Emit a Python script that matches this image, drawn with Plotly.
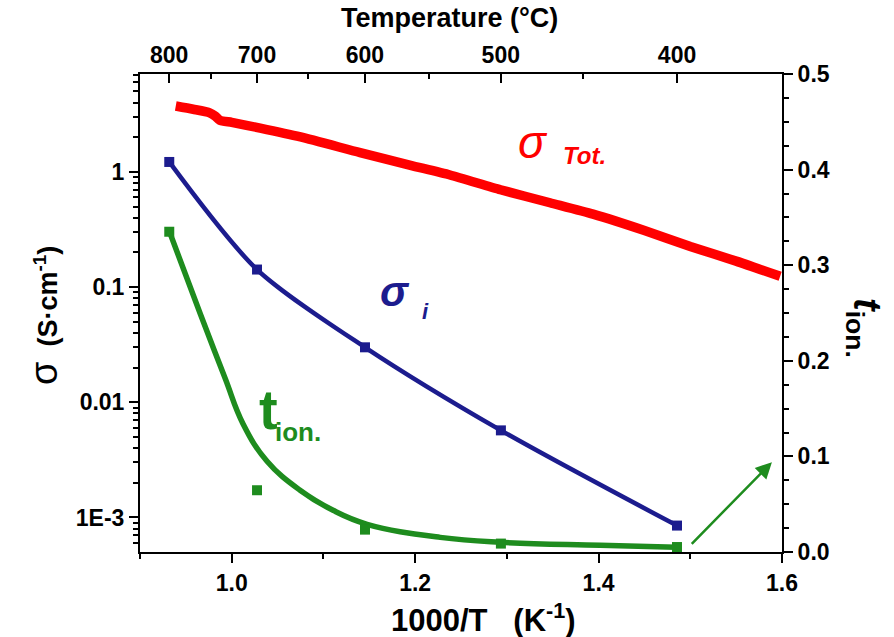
import plotly.graph_objects as go

# ---------------- data ----------------
# total conductivity (S/cm) vs 1000/T
tot_x = [0.939, 0.958, 0.976, 0.982, 0.987, 1.000, 1.031, 1.075, 1.140, 1.195,
         1.238, 1.293, 1.347, 1.394, 1.450, 1.500, 1.550, 1.598]
tot_y = [3.73, 3.50, 3.26, 3.05, 2.81, 2.69, 2.40, 2.01, 1.47, 1.14,
         0.94, 0.70, 0.54, 0.43, 0.31, 0.225, 0.168, 0.124]

# ionic conductivity points (S/cm)
ion_x = [0.9319, 1.0276, 1.1453, 1.2935, 1.4855]
ion_y = [1.22, 0.142, 0.030, 0.0057, 0.00085]

# ionic transference number points and fitted curve
tion_y = [0.335, 0.0646, 0.0234, 0.0088, 0.0052]
tfit_x = [0.9327, 0.9655, 0.9927, 1.0124, 1.0385, 1.0745, 1.1105, 1.1476,
          1.2273, 1.2927, 1.4018, 1.4847]
tfit_y = [0.3336, 0.2498, 0.1820, 0.1340, 0.0950, 0.0646, 0.0436, 0.0290,
          0.0153, 0.0101, 0.0070, 0.0050]

# axes ticks
x_ticks = [1.0, 1.2, 1.4, 1.6]
x_minor = [0.9, 1.1, 1.3, 1.5]
temp_major = [800, 700, 600, 500, 400]
temp_minor = [750, 650, 550, 450]
sig_ticks = [1e-3, 0.01, 0.1, 1]
sig_labels = ["1E-3", "0.01", "0.1", "1"]
sig_minor = [m * 10.0 ** e for e in range(-4, 1) for m in range(2, 10)]

# ---------------- styling ----------------
RED = "#FF0000"
BLUE = "#1C1C8E"
GREEN = "#1E8C1E"
FONT = "Liberation Sans, Arial, sans-serif"

L, R, T, B = 140, 112, 74, 85
W, H = 894, 637
PW, PH = W - L - R, H - T - B


def px(xp):
    return (xp - L) / PW


def py(yp):
    return (H - B - yp) / PH


def inv_T(tc):
    return 1000.0 / (tc + 273.15)


fig = go.Figure()

fig.add_trace(go.Scatter(x=tot_x, y=tot_y, mode="lines",
                         line=dict(color=RED, width=9.5, shape="spline", smoothing=0.6),
                         xaxis="x", yaxis="y", showlegend=False, hoverinfo="skip"))
fig.add_trace(go.Scatter(x=ion_x, y=ion_y, mode="lines+markers",
                         line=dict(color=BLUE, width=4.5, shape="spline", smoothing=0.8),
                         marker=dict(symbol="square", size=10, color=BLUE),
                         xaxis="x", yaxis="y", showlegend=False))
fig.add_trace(go.Scatter(x=tfit_x, y=tfit_y, mode="lines",
                         line=dict(color=GREEN, width=5.5, shape="spline", smoothing=1.2),
                         xaxis="x", yaxis="y2", showlegend=False))
fig.add_trace(go.Scatter(x=ion_x, y=tion_y, mode="markers",
                         marker=dict(symbol="square", size=10, color=GREEN),
                         xaxis="x", yaxis="y2", showlegend=False))
# invisible trace to carry the top temperature axis
fig.add_trace(go.Scatter(x=[0.95, 1.5], y=[0.1, 0.1], mode="markers",
                         marker=dict(opacity=0), xaxis="x2", yaxis="y2",
                         showlegend=False, hoverinfo="skip"))

tickfont = dict(family=FONT, size=23, color="black", weight="bold")
common = dict(showgrid=False, zeroline=False, showline=True, linecolor="black",
              linewidth=2, tickcolor="black", tickwidth=2, tickfont=tickfont)

fig.update_layout(
    width=W, height=H,
    margin=dict(l=L, r=R, t=T, b=B),
    paper_bgcolor="white", plot_bgcolor="white",
    xaxis=dict(range=[0.9, 1.6], tickmode="array", tickvals=x_ticks,
               ticktext=[f"{v:.1f}" for v in x_ticks], ticks="outside", ticklen=9,
               minor=dict(tickvals=x_minor, ticks="outside", ticklen=5,
                          tickcolor="black", tickwidth=2),
               **common),
    xaxis2=dict(range=[0.9, 1.6], overlaying="x", side="top", tickmode="array",
                tickvals=[inv_T(t) for t in temp_major],
                ticktext=[str(t) for t in temp_major], ticks="inside", ticklen=9,
                minor=dict(tickvals=[inv_T(t) for t in temp_minor], ticks="inside",
                           ticklen=5, tickcolor="black", tickwidth=2),
                **common),
    yaxis=dict(type="log", range=[-3.30, 0.85], tickmode="array", tickvals=sig_ticks,
               ticktext=sig_labels, ticks="outside", ticklen=9,
               minor=dict(tickvals=sig_minor, ticks="outside", ticklen=5,
                          tickcolor="black", tickwidth=2),
               **common),
    yaxis2=dict(range=[0, 0.5], overlaying="y", side="right", tickmode="linear",
                tick0=0, dtick=0.1, tickformat=".1f", ticks="outside", ticklen=9,
                minor=dict(dtick=0.025, ticks="outside", ticklen=5,
                           tickcolor="black", tickwidth=2),
                **common),
)


def label(xp, yp, text, size, color="black", angle=0):
    return dict(x=px(xp), y=py(yp), xref="paper", yref="paper", showarrow=False,
                xanchor="center", yanchor="middle", textangle=angle, text=text,
                font=dict(family=FONT, size=size, color=color))


ann = []
# axis titles
ann.append(label(449, 18, "<b>Temperature (°C)</b>", 27))
ann.append(label(484, 618, "<b>1000/T\u00a0\u00a0\u00a0(K<sup>-1</sup>)</b>", 31))
ann.append(label(44, 316,
                 "<span style='font-size:38px'>σ</span>\u00a0\u00a0<b>(S·cm<sup>-1</sup>)</b>",
                 27, angle=-90))
ann.append(label(864, 328, "<b><i>t</i></b><b><sub>ion.</sub></b>", 38, angle=90))

# series labels
ann.append(label(533, 142, "<i>σ</i>", 46, RED))
ann.append(label(584, 156, "<i><b>Tot.</b></i>", 24, RED))
ann.append(label(395, 291, "<i><b>σ</b></i>", 42, BLUE))
ann.append(label(425, 311, "<i><b>i</b></i>", 22, BLUE))
ann.append(label(268, 409, "<b>t</b>", 56, GREEN))
ann.append(label(298, 432, "<b>ion.</b>", 26, GREEN))

# green arrow pointing to right axis
ann.append(dict(x=1.589, y=0.094, xref="x", yref="y2", ax=1.500, ay=0.007,
                axref="x", ayref="y2", showarrow=True, arrowhead=2, arrowsize=1.3,
                arrowwidth=2.5, arrowcolor=GREEN, text=""))

fig.update_layout(annotations=ann)

fig.write_html("out.html")
